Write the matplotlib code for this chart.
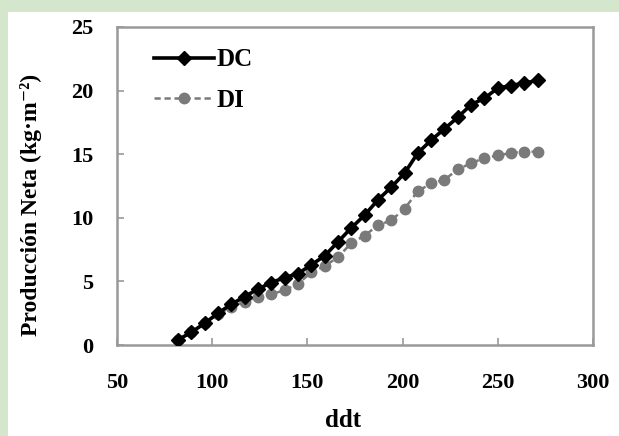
import matplotlib
matplotlib.use("Agg")
import matplotlib.pyplot as plt
from matplotlib.patches import Rectangle

# ddt values (days) and net production (kg m-2)
ddt = [82, 89, 96, 103, 110, 117, 124, 131, 138, 145, 152, 159, 166, 173,
       180, 187, 194, 201, 208, 215, 222, 229, 236, 243, 250, 257, 264, 271]
dc = [0.4, 1.0, 1.7, 2.5, 3.2, 3.8, 4.4, 4.9, 5.3, 5.6, 6.3, 7.0, 8.1, 9.2,
      10.2, 11.4, 12.4, 13.5, 15.1, 16.1, 17.0, 17.9, 18.9, 19.4, 20.2, 20.4, 20.6, 20.8]
di = [0.4, 1.0, 1.7, 2.4, 3.0, 3.4, 3.8, 4.0, 4.3, 4.8, 5.7, 6.2, 6.9, 8.0,
      8.6, 9.4, 9.8, 10.7, 12.1, 12.7, 13.0, 13.8, 14.3, 14.7, 14.9, 15.1, 15.2, 15.2]

xticks = [50, 100, 150, 200, 250, 300]
yticks = [0, 5, 10, 15, 20, 25]

serif = ["Liberation Serif", "DejaVu Serif"]
plt.rcParams["font.family"] = serif
plt.rcParams["font.weight"] = "bold"

fig = plt.figure(figsize=(6.19, 4.36), dpi=100, facecolor="#d4e7cc")
# white panel inside the green border
fig.patches.append(Rectangle((8 / 619, 0), 1, (436 - 12) / 436,
                             transform=fig.transFigure, facecolor="white",
                             edgecolor="none", zorder=-10))

ax = fig.add_axes([117 / 619, (436 - 345) / 436, 476 / 619, 318 / 436])
ax.set_zorder(1)
ax.set_facecolor("white")

ax.plot(ddt, dc, color="black", lw=2.6, marker="D", markersize=7,
        label="DC", zorder=3)
ax.plot(ddt, di, color="#7a7a7a", lw=1.8, ls=(0, (2.5, 1.5)), marker="o",
        markersize=7.5, label="DI", zorder=2)

ax.set_xlim(50, 300)
ax.set_ylim(0, 25)
ax.set_xticks(xticks)
ax.set_yticks(yticks)
ax.tick_params(axis="both", direction="in", color="#999999", length=5,
               width=1.2, labelsize=16)
ax.tick_params(axis="x", pad=20)
ax.tick_params(axis="y", pad=17)
for lab in ax.get_xticklabels() + ax.get_yticklabels():
    lab.set_fontweight("bold")

for sp in ax.spines.values():
    sp.set_color("#999999")
    sp.set_linewidth(1.8)

ax.set_xlabel("ddt", fontsize=18, fontweight="bold")
ax.set_ylabel("Producción Neta (kg·m⁻²)", fontsize=17, fontweight="bold")
ax.xaxis.set_label_coords(0.475, -0.2)
ax.yaxis.set_label_coords(-0.157, 0.44)

leg = ax.legend(loc="upper left", bbox_to_anchor=(0.078, 0.933),
                frameon=False, fontsize=18, borderpad=0, borderaxespad=0,
                handlelength=2.4, handletextpad=0.1, labelspacing=0.7)

fig.savefig("out.png", dpi=100, facecolor=fig.get_facecolor())
